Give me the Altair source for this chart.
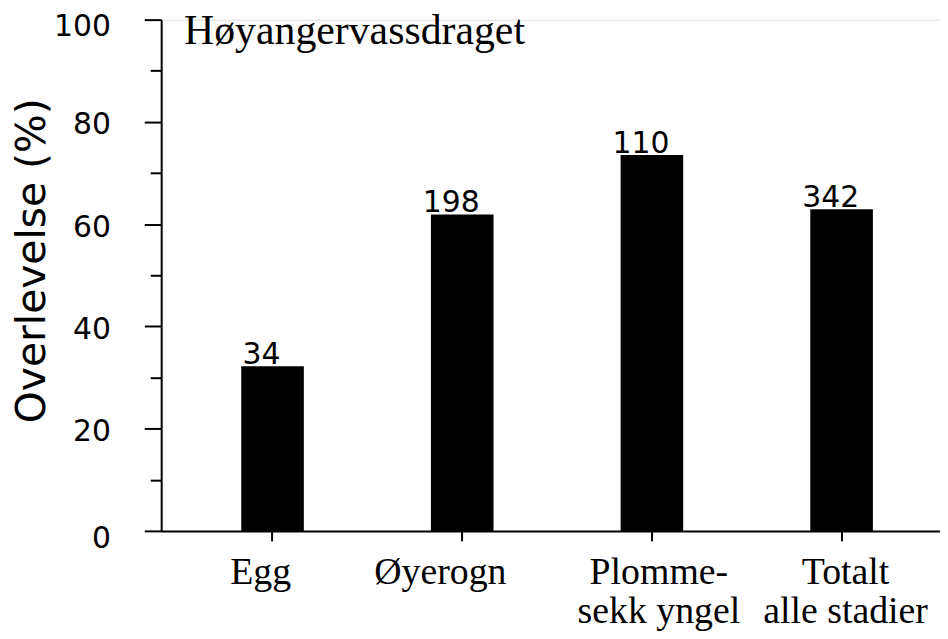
import altair as alt
import pandas as pd

# Data
stages = ["Egg", "Øyerogn", "Plomme-|sekk yngel", "Totalt|alle stadier"]
survival = [32.2, 61.9, 73.5, 62.9]
counts = ["34", "198", "110", "342"]
y_tick_values = [0, 10, 20, 30, 40, 50, 60, 70, 80, 90, 100]
chart_title = "Høyangervassdraget"
y_title = "Overlevelse (%)"

df = pd.DataFrame({"stage": stages, "survival": survival, "n": counts})
title_df = pd.DataFrame({"t": [chart_title]})

x_enc = alt.X(
    "stage:N",
    sort=stages,
    title=None,
    scale=alt.Scale(paddingInner=0.67, paddingOuter=0.388, align=0.544),
    axis=alt.Axis(
        labelAngle=0,
        labelExpr="split(datum.label, '|')",
        labelFont="Liberation Serif",
        labelFontSize=38,
        labelLineHeight=39,
        labelColor="black",
        labelLimit=400,
        labelPadding=13,
        labelOffset={
            "condition": [
                {"test": "datum.value === 'Egg'", "value": -12},
                {"test": "datum.value === 'Øyerogn'", "value": -22},
                {"test": "indexof(datum.value, 'Plomme') === 0", "value": 7},
            ],
            "value": 4,
        },
        tickSize=10,
        tickWidth=2,
        tickColor="black",
        domainColor="black",
        domainWidth=2,
    ),
)

y_enc = alt.Y(
    "survival:Q",
    title=y_title,
    scale=alt.Scale(domain=[0, 100], nice=False),
    axis=alt.Axis(
        values=y_tick_values,
        labelExpr="datum.value % 20 === 0 ? datum.label : ''",
        labelFont="DejaVu Sans",
        labelFontSize=30,
        labelColor="black",
        labelPadding=34,
        labelOffset={
            "condition": [
                {"test": "datum.value === 100", "value": 7},
                {"test": "datum.value === 0", "value": 8},
            ],
            "value": 3,
        },
        labelFlush=False,
        labelOverlap=False,
        tickSize={"condition": {"test": "datum.value % 20 === 0", "value": 17}, "value": 11},
        tickWidth=2,
        tickColor="black",
        domainColor="black",
        domainWidth=2,
        grid=False,
        titleFont="DejaVu Sans",
        titleFontSize=41,
        titleFontWeight="normal",
        titleColor="black",
        titleAngle=-90,
        titleAlign="center",
        titleBaseline="alphabetic",
        titleX=-117,
        titleY=242,
    ),
)

bars = alt.Chart(df).mark_bar(color="black").encode(x=x_enc, y=y_enc)

labels = alt.Chart(df).mark_text(
    dx=-11,
    dy=-2,
    baseline="alphabetic",
    align="center",
    font="DejaVu Sans",
    fontSize=30,
    color="black",
).encode(x=alt.X("stage:N", sort=stages), y=alt.Y("survival:Q"), text="n:N")

title_text = alt.Chart(title_df).mark_text(
    align="left",
    baseline="alphabetic",
    font="Liberation Serif",
    fontSize=42,
    color="black",
).encode(x=alt.value(23), y=alt.value(25), text="t:N")

chart = (
    alt.layer(bars, labels, title_text)
    .properties(
        width=783,
        height=514,
        autosize=alt.AutoSizeParams(type="none"),
        padding={"left": 154, "top": 10, "right": 0, "bottom": 107},
    )
    .configure_view(stroke=None)
    .configure(background="white")
)

chart.save("out.html", embed_options={"renderer": "svg", "actions": False})
